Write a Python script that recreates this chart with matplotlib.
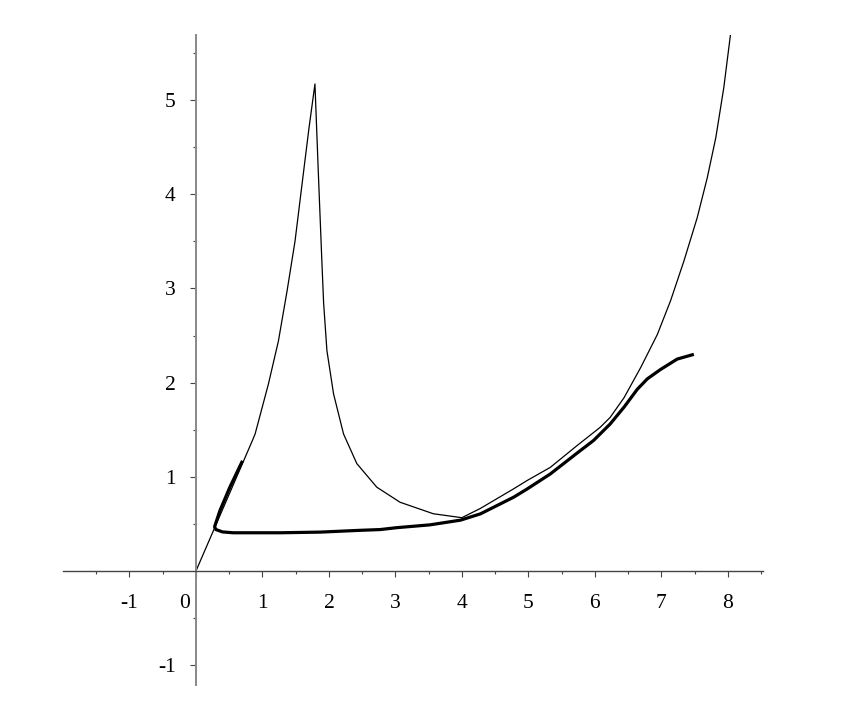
import matplotlib
matplotlib.use('Agg')
import matplotlib.pyplot as plt
import matplotlib.transforms as mtransforms

# Thin curve: line from origin, cusp near x=1.8, dip at x=4, then steep rise
thin_x = [0.0, 0.84, 0.89, 1.09, 1.24, 1.37, 1.49, 1.62, 1.70, 1.79,
          1.84, 1.89, 1.92, 1.97, 2.07, 2.22, 2.42, 2.72, 3.07, 3.57, 4.00,
          4.28, 4.78, 4.98, 5.33, 5.73, 6.08, 6.23, 6.44, 6.69, 6.94, 7.14,
          7.34, 7.54, 7.69, 7.82, 7.94, 8.04]
thin_y = [0.0, 1.37, 1.455, 1.985, 2.44, 2.97, 3.50, 4.245, 4.70, 5.17,
          4.245, 3.36, 2.85, 2.34, 1.88, 1.455, 1.14, 0.89, 0.73, 0.608, 0.566,
          0.665, 0.873, 0.96, 1.10, 1.33, 1.525, 1.63, 1.84, 2.16, 2.51, 2.87,
          3.29, 3.75, 4.17, 4.60, 5.13, 5.69]

# Thick curve: short rising piece, flat floor, then S-shaped rise
thick_x = [0.70, 0.51, 0.36, 0.28, 0.30, 0.40, 0.56, 1.27, 1.87, 2.47,
           2.77, 3.02, 3.52, 3.98, 4.28, 4.78, 4.98, 5.33, 5.73, 5.98,
           6.23, 6.44, 6.64, 6.79, 6.99, 7.24, 7.49]
thick_y = [1.17, 0.89, 0.64, 0.47, 0.44, 0.415, 0.406, 0.406, 0.413, 0.432,
           0.44, 0.46, 0.49, 0.54, 0.607, 0.784, 0.87, 1.03, 1.25, 1.385,
           1.56, 1.74, 1.93, 2.04, 2.14, 2.25, 2.30]

x_ticks = [-1, 0, 1, 2, 3, 4, 5, 6, 7, 8]
x_labels = ['-1', '0', '1', '2', '3', '4', '5', '6', '7', '8']
y_ticks = [-1, 1, 2, 3, 4, 5]
y_labels = ['-1', '1', '2', '3', '4', '5']

plt.rcParams['font.family'] = ['Liberation Serif', 'DejaVu Serif']

fig = plt.figure(figsize=(8.46, 7.11), dpi=100)
ax = fig.add_axes([63 / 846, 26 / 711, 700 / 846, 650 / 711])

ax.plot(thin_x, thin_y, color='black', lw=0.9, solid_joinstyle='round')
ax.plot(thick_x, thick_y, color='black', lw=2.3, solid_capstyle='butt',
        solid_joinstyle='round')

# Axes crossing at the origin
ax.spines['left'].set_position(('data', 0))
ax.spines['bottom'].set_position(('data', 0))
ax.spines['top'].set_visible(False)
ax.spines['right'].set_visible(False)
ax.spines['left'].set_color('#888888')
ax.spines['left'].set_linewidth(1.4)
ax.spines['bottom'].set_color('#444444')
ax.spines['bottom'].set_linewidth(1.0)

ax.set_xticks(x_ticks)
ax.set_xticklabels(x_labels)
ax.set_yticks(y_ticks)
ax.set_yticklabels(y_labels)
ax.set_xticks([v + 0.5 for v in range(-2, 9)], minor=True)
ax.set_yticks([v + 0.5 for v in range(-2, 6)], minor=True)

# limits after the ticks so the minor ticks do not widen them
ax.set_xlim(-2.0, 8.53)
ax.set_ylim(-1.21, 5.69)

ax.tick_params(axis='both', which='major', direction='out', length=4.5,
               width=0.8, color='#444444', labelsize=15.5)
ax.tick_params(axis='both', which='minor', direction='out', length=2.5,
               width=0.8, color='#444444')
ax.tick_params(axis='x', which='major', pad=12)
ax.tick_params(axis='y', which='major', pad=10)

# Maple puts the 0 label to the left of the vertical axis
fig.canvas.draw()
shift = mtransforms.ScaledTranslation(-11 / 100, 0, fig.dpi_scale_trans)
for tick in ax.xaxis.get_major_ticks():
    if tick.get_loc() == 0:
        tick.label1.set_transform(tick.label1.get_transform() + shift)

fig.savefig('out.png', dpi=100, facecolor='white')
